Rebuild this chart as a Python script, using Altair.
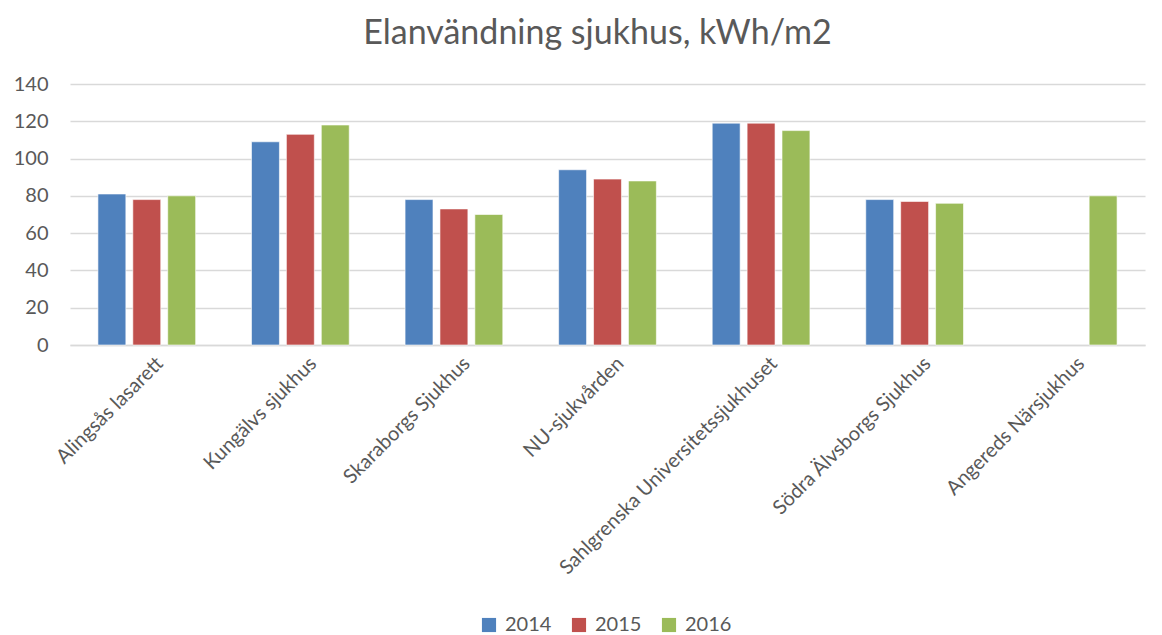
import altair as alt
import pandas as pd

hospitals = ["Alingsås lasarett", "Kungälvs sjukhus", "Skaraborgs Sjukhus", "NU-sjukvården",
             "Sahlgrenska Universitetssjukhuset", "Södra Älvsborgs Sjukhus", "Angereds Närsjukhus"]
years = ["2014", "2015", "2016"]
v2014 = [81, 109, 78, 94, 119, 78, None]
v2015 = [78, 113, 73, 89, 119, 77, None]
v2016 = [80, 118, 70, 88, 115, 76, 80]
colors = ["#4F81BD", "#C0504D", "#9BBB59"]

rows = []
for y, vals in zip(years, [v2014, v2015, v2016]):
    for h, v in zip(hospitals, vals):
        if v is not None:
            rows.append({"Sjukhus": h, "År": y, "Värde": v})
df = pd.DataFrame(rows)

FONT = "Lato"
GREY = "#595959"

chart = alt.Chart(df).mark_bar(stroke="white", strokeWidth=0.6).encode(
    x=alt.X("Sjukhus:N", sort=hospitals, title=None,
            scale=alt.Scale(paddingInner=0, paddingOuter=0),
            axis=alt.Axis(labelAngle=-45, labelFontSize=20, labelColor=GREY, labelFont=FONT,
                          ticks=False, domain=True, domainColor="#d9d9d9", domainWidth=1.5,
                          labelPadding=8, labelLimit=400, labelOffset=6)),
    xOffset=alt.XOffset("År:N", scale=alt.Scale(domain=years, paddingInner=0.2, paddingOuter=0.8)),
    y=alt.Y("Värde:Q", title=None,
            scale=alt.Scale(domain=[0, 140]),
            axis=alt.Axis(values=[0, 20, 40, 60, 80, 100, 120, 140], labelFontSize=20, labelColor=GREY,
                          labelFont=FONT, ticks=False, domain=False, gridColor="#d9d9d9",
                          gridWidth=1.5, labelPadding=22)),
    color=alt.Color("År:N", scale=alt.Scale(domain=years, range=colors),
                    legend=alt.Legend(title=None, orient="none", legendX=409, legendY=531,
                                      direction="horizontal",
                                      symbolType="square", symbolSize=200, symbolStrokeWidth=0,
                                      labelFontSize=20, labelColor=GREY, labelFont=FONT,
                                      labelOffset=6, columnPadding=17)),
).properties(
    width=1075, height=261,
    padding={"top": 9, "left": 5, "right": 5, "bottom": 5},
    title=alt.TitleParams("Elanvändning sjukhus, kWh/m2", fontSize=34, font=FONT, color=GREY,
                          fontWeight="normal", offset=23, anchor="middle", dx=-10),
).configure_view(stroke=None)

chart.save("out.html", embed_options={"renderer": "svg", "actions": False})
